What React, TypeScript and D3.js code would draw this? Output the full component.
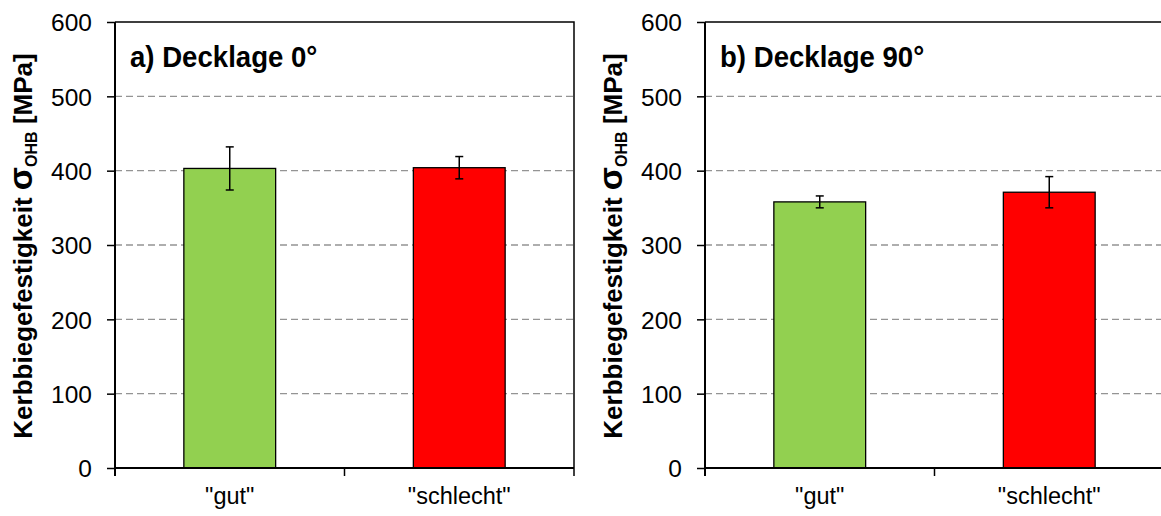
import { useEffect, useRef } from "react";
import * as d3 from "d3";

const categories = ['"gut"', '"schlecht"'];
const barColors = ["#92d050", "#ff0000"];
const panelTitles = ["a) Decklage 0°", "b) Decklage 90°"];
const means0 = [403, 404];
const errors0 = [29, 15];
const means90 = [358, 371];
const errors90 = [8, 21];
const yTicks = [0, 100, 200, 300, 400, 500, 600];

const W = 1161;
const H = 516;
const FONT = "'Liberation Sans', Arial, sans-serif";

export default function App() {
  const svgRef = useRef<SVGSVGElement>(null);

  useEffect(() => {
    document.body.style.margin = "0";
    if (!svgRef.current) return;
    const svg = d3.select(svgRef.current);
    svg.selectAll("*").remove();

    const panels = [
      { title: panelTitles[0], means: means0, errors: errors0, x0: 115 },
      { title: panelTitles[1], means: means90, errors: errors90, x0: 705 },
    ];

    const plotW = 459;
    const top = 22;
    const bottom = 468;

    const y = d3.scaleLinear().domain([0, 600]).range([bottom, top]);

    panels.forEach((p) => {
      const g = svg.append("g");
      const x = d3
        .scaleBand<string>()
        .domain(categories)
        .range([p.x0, p.x0 + plotW])
        .paddingInner(0.6)
        .paddingOuter(0.3);

      // grid
      g.selectAll("line.grid")
        .data(yTicks.filter((t) => t > 0 && t < 600))
        .enter()
        .append("line")
        .attr("x1", p.x0)
        .attr("x2", p.x0 + plotW)
        .attr("y1", (d) => y(d))
        .attr("y2", (d) => y(d))
        .attr("stroke", "#949494")
        .attr("stroke-width", 1.4)
        .attr("stroke-dasharray", "7,4");

      // frame top + right
      g.append("path")
        .attr("d", `M${p.x0},${top}H${p.x0 + plotW}V${bottom}`)
        .attr("fill", "none")
        .attr("stroke", "#000")
        .attr("stroke-width", 1.5);

      // bars
      g.selectAll("rect.bar")
        .data(p.means)
        .enter()
        .append("rect")
        .attr("x", (_, i) => x(categories[i])!)
        .attr("width", x.bandwidth())
        .attr("y", (d) => y(d))
        .attr("height", (d) => bottom - y(d))
        .attr("fill", (_, i) => barColors[i])
        .attr("stroke", "#000")
        .attr("stroke-width", 1.3);

      // error bars
      p.means.forEach((m, i) => {
        const cx = x(categories[i])! + x.bandwidth() / 2;
        const e = p.errors[i];
        const eg = g.append("g").attr("stroke", "#000").attr("stroke-width", 1.5);
        eg.append("line").attr("x1", cx).attr("x2", cx).attr("y1", y(m + e)).attr("y2", y(m - e));
        eg.append("line").attr("x1", cx - 4).attr("x2", cx + 4).attr("y1", y(m + e)).attr("y2", y(m + e));
        eg.append("line").attr("x1", cx - 4).attr("x2", cx + 4).attr("y1", y(m - e)).attr("y2", y(m - e));
      });

      // y axis
      const yAxis = d3.axisLeft(y).tickValues(yTicks).tickSize(8).tickPadding(15);
      const ya = g.append("g").attr("transform", `translate(${p.x0},0)`).call(yAxis);
      ya.select(".domain").attr("stroke", "#000").attr("stroke-width", 2).attr("d", `M0,${top}V${bottom + 8}`);
      ya.selectAll(".tick line").attr("stroke", "#000").attr("stroke-width", 1.5);
      ya.selectAll(".tick text")
        .attr("font-family", FONT)
        .attr("font-size", 24.5)
        .attr("fill", "#000")
        .attr("dy", "0.36em");

      // x axis
      g.append("line")
        .attr("x1", p.x0)
        .attr("x2", p.x0 + plotW)
        .attr("y1", bottom)
        .attr("y2", bottom)
        .attr("stroke", "#000")
        .attr("stroke-width", 2);
      const step = x.step();
      [1, 2].forEach((k) => {
        const bx = p.x0 + step * k;
        g.append("line")
          .attr("x1", bx)
          .attr("x2", bx)
          .attr("y1", bottom)
          .attr("y2", bottom + 8)
          .attr("stroke", "#000")
          .attr("stroke-width", 1.5);
      });
      g.selectAll("text.xlab")
        .data(categories)
        .enter()
        .append("text")
        .attr("x", (d) => x(d)! + x.bandwidth() / 2)
        .attr("y", 504)
        .attr("text-anchor", "middle")
        .attr("font-family", FONT)
        .attr("font-size", 23.5)
        .text((d) => d);

      // title (slightly condensed like the original)
      g.append("text")
        .attr("transform", `translate(${p.x0 + 15},67) scale(0.92,1)`)
        .attr("font-family", FONT)
        .attr("font-size", 30)
        .attr("font-weight", "bold")
        .text(p.title);

      // y label
      const lab = g
        .append("text")
        .attr("transform", `translate(${p.x0 - 83},${246}) rotate(-90)`)
        .attr("text-anchor", "middle")
        .attr("font-family", FONT)
        .attr("font-size", 26)
        .attr("font-weight", "bold");
      lab.append("tspan").text("Kerbbiegefestigkeit  ");
      lab.append("tspan").attr("font-size", 34).text("σ");
      lab.append("tspan").attr("font-size", 16).attr("dy", 5).text("OHB");
      lab.append("tspan").attr("dy", -5).text(" [MPa]");
    });
  }, []);

  return <svg ref={svgRef} width={W} height={H} viewBox={`0 0 ${W} ${H}`} style={{ display: "block", background: "#fff" }} />;
}
